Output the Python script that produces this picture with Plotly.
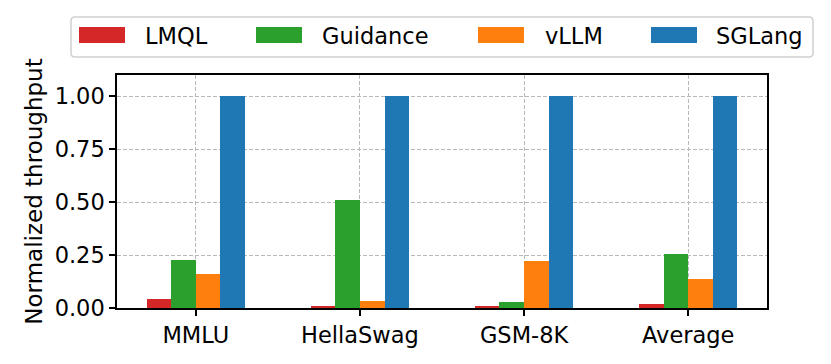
"""
normalized throughput bar chart
"""

import plotly.graph_objects as go

# data
benchmarks = ["MMLU", "HellaSwag", "GSM-8K", "Average"]
systems = ["LMQL", "Guidance", "vLLM", "SGLang"]
lmql = [0.041, 0.011, 0.010, 0.021]
guidance = [0.225, 0.508, 0.030, 0.254]
vllm = [0.159, 0.035, 0.221, 0.138]
sglang = [1.0, 1.0, 1.0, 1.0]
colors = ["#d62728", "#2ca02c", "#ff7f0e", "#1f77b4"]

series = [lmql, guidance, vllm, sglang]
font = "DejaVu Sans"

fig = go.Figure()
width = 0.15
xs = list(range(len(benchmarks)))
for i, (name, vals, col) in enumerate(zip(systems, series, colors)):
    offset = (i - 1.5) * width
    fig.add_trace(go.Bar(x=[x + offset for x in xs], y=vals, name=name, width=width,
                         marker=dict(color=col, line=dict(width=0)), showlegend=False))

# plot area in pixels: left 117, right 767, top 75, bottom 308
L, R, T, B = 117, 767, 75, 308


def px(x):
    return (x - L) / (R - L)


def py(y):
    return (B - y) / (B - T)


# legend box with rounded corners
x0, x1, y0, y1, rad = 71, 813, 17, 57, 4
pts = [(x0 + rad, y0), (x1 - rad, y0), (x1, y0 + rad), (x1, y1 - rad),
       (x1 - rad, y1), (x0 + rad, y1), (x0, y1 - rad), (x0, y0 + rad)]
path = "M {} {} L {} {} Q {} {} {} {} L {} {} Q {} {} {} {} L {} {} Q {} {} {} {} L {} {} Q {} {} {} {} Z".format(
    px(pts[0][0]), py(pts[0][1]), px(pts[1][0]), py(pts[1][1]), px(x1), py(y0), px(pts[2][0]), py(pts[2][1]),
    px(pts[3][0]), py(pts[3][1]), px(x1), py(y1), px(pts[4][0]), py(pts[4][1]),
    px(pts[5][0]), py(pts[5][1]), px(x0), py(y1), px(pts[6][0]), py(pts[6][1]),
    px(pts[7][0]), py(pts[7][1]), px(x0), py(y0), px(pts[0][0]), py(pts[0][1]))
shapes = [dict(type="path", xref="paper", yref="paper", path=path,
               line=dict(color="#d0d0d0", width=1.5), fillcolor="white", layer="above")]
annotations = []
swatch_x = [79, 256, 478, 651]
text_x = [143, 320, 543, 714]
for name, col, sx, tx in zip(systems, colors, swatch_x, text_x):
    shapes.append(dict(type="rect", xref="paper", yref="paper", x0=px(sx), x1=px(sx + 46),
                       y0=py(43), y1=py(27), fillcolor=col, line=dict(width=0), layer="above"))
    annotations.append(dict(xref="paper", yref="paper", x=px(tx), y=py(36), text=name, showarrow=False,
                            xanchor="left", yanchor="middle", font=dict(family=font, size=22.5, color="black")))

fig.update_layout(
    width=831, height=364,
    margin=dict(l=L, r=831 - R, t=T, b=364 - B),
    paper_bgcolor="white", plot_bgcolor="white",
    font=dict(family=font, size=22.5, color="black"),
    bargap=0,
    shapes=shapes,
    annotations=annotations,
)
fig.update_xaxes(range=[-0.48, 3.48], tickmode="array", tickvals=xs, ticktext=benchmarks,
                 showgrid=True, gridcolor="#b8b8b8", griddash="4px,2px", gridwidth=1,
                 showline=True, linecolor="black", linewidth=1.5, mirror=True,
                 ticks="outside", ticklen=6, tickwidth=1.5, tickcolor="black", zeroline=False)
fig.update_yaxes(range=[0, 1.1], tickvals=[0, 0.25, 0.5, 0.75, 1.0], tickformat=".2f",
                 title=dict(text="Normalized throughput", standoff=6, font=dict(size=23)),
                 showgrid=True, gridcolor="#b8b8b8", griddash="4px,2px", gridwidth=1,
                 showline=True, linecolor="black", linewidth=1.5, mirror=True,
                 ticks="outside", ticklen=6, tickwidth=1.5, tickcolor="black", zeroline=False)

# page body has a default 8px margin; drop it so the figure sits at the window corner
fig.write_html("out.html", config={"displayModeBar": False},
               post_script="document.body.style.margin='0';")
